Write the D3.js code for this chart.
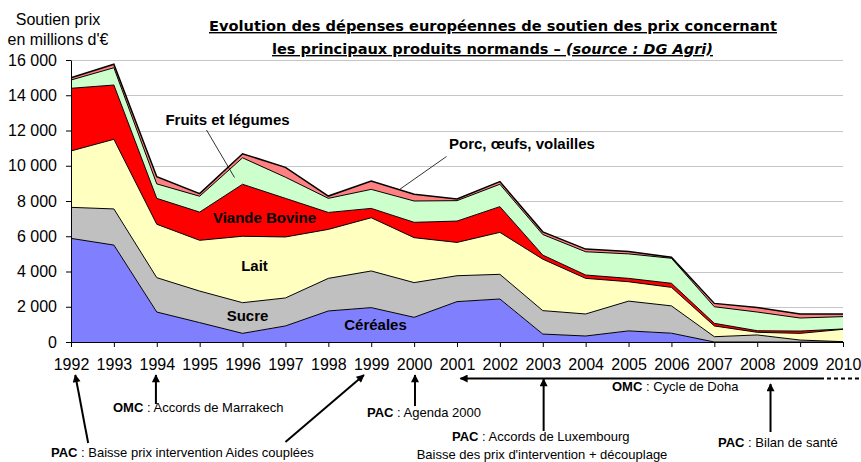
<!DOCTYPE html>
<html>
<head>
<meta charset="utf-8">
<script src="https://cdn.jsdelivr.net/npm/d3@7"></script>
<style>
  body { margin: 0; background: #fff; }
  svg { display: block; font-family: "Liberation Sans", Arial, sans-serif; }
</style>
</head>
<body>
<svg id="chart" width="861" height="462"></svg>
<script>
  // values in millions of euros
  var years    = [1992, 1993, 1994, 1995, 1996, 1997, 1998, 1999, 2000, 2001, 2002, 2003, 2004, 2005, 2006, 2007, 2008, 2009, 2010];
  var cereales = [5880, 5500, 1700, 1100,  490,  910, 1760, 1950, 1400, 2290, 2440,  450,  340,  630,  500,    0,    0,    0,    0];
  var sucre    = [1760, 2050, 1950, 1790, 1740, 1590, 1850, 2080, 1970, 1470, 1400, 1330, 1250, 1690, 1550,  300,  400,  110,   20];
  var lait     = [3200, 3950, 3030, 2880, 3770, 3460, 2780, 3020, 2550, 1890, 2380, 2920, 2020, 1100, 1050,  610,  150,  380,  700];
  var viande   = [3555, 3080, 1470, 1600, 2950, 2190,  960,  530,  870, 1210, 1460,  230,  190,  190,  230,  150,   90,  130,   20];
  var fruits   = [ 470,  980,  820,  900, 1500, 1200,  800, 1080, 1210, 1160, 1270, 1170, 1320, 1390, 1420,  940, 1060,  740,  700];
  var porc     = [ 130,  200,  410,  150,  230,  560,  130,  470,  380,   90,  150,  150,  150,  130,   60,  190,  260,  230,  150];

  var seriesKeys   = ['cereales', 'sucre', 'lait', 'viande', 'fruits', 'porc'];
  var seriesColors = ['#8080ff', '#c0c0c0', '#ffffc0', '#ff0000', '#ccffcc', '#ff8080'];
  var yTicks = [0, 2000, 4000, 6000, 8000, 10000, 12000, 14000, 16000];

  (function() {
    var svg = d3.select('#chart');
    var pLeft = 71, pRight = 843, pTop = 60, pBottom = 342;

    var x = d3.scaleLinear().domain([1992, 2010]).range([pLeft, pRight]);
    var y = d3.scaleLinear().domain([0, 16000]).range([pBottom, pTop]);

    var rows = years.map(function(yr, i) {
      return { year: yr, cereales: cereales[i], sucre: sucre[i], lait: lait[i],
               viande: viande[i], fruits: fruits[i], porc: porc[i] };
    });
    var stacked = d3.stack().keys(seriesKeys)(rows);

    // grid
    svg.append('g').selectAll('line').data(yTicks.slice(1)).enter().append('line')
      .attr('x1', pLeft).attr('x2', pRight)
      .attr('y1', function(d) { return Math.round(y(d)) + 0.5; })
      .attr('y2', function(d) { return Math.round(y(d)) + 0.5; })
      .attr('stroke', '#c6c6c6').attr('stroke-width', 1);

    // areas
    var area = d3.area()
      .x(function(d) { return x(d.data.year); })
      .y0(function(d) { return y(d[0]); })
      .y1(function(d) { return y(d[1]); });
    var topLine = d3.line()
      .x(function(d) { return x(d.data.year); })
      .y(function(d) { return y(d[1]); });

    svg.append('g').selectAll('path').data(stacked).enter().append('path')
      .attr('d', area)
      .attr('fill', function(d, i) { return seriesColors[i]; });
    svg.append('g').selectAll('path').data(stacked).enter().append('path')
      .attr('d', topLine)
      .attr('fill', 'none')
      .attr('stroke', '#000')
      .attr('stroke-width', function(d, i) { return i === stacked.length - 1 ? 1.5 : 1; });

    // axes
    var fmt = function(v) { return d3.format(',')(v).replace(/,/g, ' '); };
    var yAxis = svg.append('g')
      .attr('transform', 'translate(' + pLeft + ',0)')
      .call(d3.axisLeft(y).tickValues(yTicks).tickFormat(fmt).tickSize(5).tickPadding(9).tickSizeOuter(0));
    var xAxis = svg.append('g')
      .attr('transform', 'translate(0,' + pBottom + ')')
      .call(d3.axisBottom(x).tickValues(years).tickFormat(d3.format('d')).tickSize(5).tickPadding(12).tickSizeOuter(0));
    [yAxis, xAxis].forEach(function(g) {
      g.attr('font-family', '"Liberation Sans", Arial, sans-serif').attr('font-size', 16);
      g.selectAll('text').attr('fill', '#000');
      g.selectAll('line').attr('stroke', '#000');
      g.select('.domain').attr('stroke', '#000');
    });

    // unit label
    var unit = svg.append('text').attr('text-anchor', 'middle').attr('font-size', 16);
    unit.append('tspan').attr('x', 58).attr('y', 25).text('Soutien prix');
    unit.append('tspan').attr('x', 58).attr('y', 45).text('en millions d\'€');

    // title
    var tfont = '"DejaVu Sans Condensed", "DejaVu Sans", sans-serif';
    svg.append('text')
      .attr('x', 493).attr('y', 31).attr('text-anchor', 'middle')
      .attr('font-family', tfont).attr('font-size', 14).attr('font-weight', 'bold')
      .attr('text-decoration', 'underline')
      .attr('textLength', 568).attr('lengthAdjust', 'spacingAndGlyphs')
      .text('Evolution des dépenses européennes de soutien des prix concernant');
    var t2 = svg.append('text')
      .attr('x', 492.5).attr('y', 54).attr('text-anchor', 'middle')
      .attr('font-family', tfont).attr('font-size', 14).attr('font-weight', 'bold')
      .attr('text-decoration', 'underline')
      .attr('textLength', 441).attr('lengthAdjust', 'spacingAndGlyphs');
    t2.append('tspan').text('les principaux produits normands – ');
    t2.append('tspan').attr('font-style', 'italic').text('(source : DG Agri)');

    // series labels
    var labels = [
      { text: 'Fruits et légumes', x: 227.5, y: 124.5, anchor: 'middle' },
      { text: 'Porc, œufs, volailles', x: 449, y: 149, anchor: 'start' },
      { text: 'Viande Bovine', x: 264.5, y: 222.5, anchor: 'middle' },
      { text: 'Lait', x: 254.5, y: 270.5, anchor: 'middle' },
      { text: 'Sucre', x: 247.5, y: 320.5, anchor: 'middle' },
      { text: 'Céréales', x: 375.5, y: 330, anchor: 'middle' }
    ];
    svg.append('g').selectAll('text').data(labels).enter().append('text')
      .attr('x', function(d) { return d.x; })
      .attr('y', function(d) { return d.y; })
      .attr('text-anchor', function(d) { return d.anchor; })
      .attr('font-size', 15).attr('font-weight', 'bold')
      .text(function(d) { return d.text; });

    // leader lines
    svg.append('line').attr('x1', 206.5).attr('y1', 130).attr('x2', 234.5).attr('y2', 177.5)
      .attr('stroke', '#000').attr('stroke-width', 0.8);
    svg.append('line').attr('x1', 446.5).attr('y1', 156.5).attr('x2', 399.5).attr('y2', 189.5)
      .attr('stroke', '#000').attr('stroke-width', 0.8);

    // policy annotations below the axis
    var defs = svg.append('defs');
    defs.append('marker').attr('id', 'arrow')
      .attr('viewBox', '0 0 10 10').attr('refX', 9).attr('refY', 5)
      .attr('markerUnits', 'userSpaceOnUse').attr('markerWidth', 10).attr('markerHeight', 8)
      .attr('orient', 'auto')
      .append('path').attr('d', 'M0,0 L10,5 L0,10 z').attr('fill', '#000');

    var arrows = [
      { x1: x(1992.4), y1: 443, x2: x(1992.1), y2: 375 },
      { x1: x(1997.0), y1: 442, x2: x(1998.83), y2: 375 },
      { x1: x(1993.98), y1: 404, x2: x(1993.98), y2: 375 },
      { x1: x(2000.02), y1: 406, x2: x(2000.02), y2: 375 },
      { x1: x(2010) - 23, y1: 378.5, x2: x(2001.08), y2: 378.5 },
      { x1: x(2003.02), y1: 431, x2: x(2003.02), y2: 379 },
      { x1: x(2008.31), y1: 432, x2: x(2008.31), y2: 384 }
    ];
    svg.append('g').selectAll('line').data(arrows).enter().append('line')
      .attr('x1', function(d) { return d.x1; }).attr('y1', function(d) { return d.y1; })
      .attr('x2', function(d) { return d.x2; }).attr('y2', function(d) { return d.y2; })
      .attr('stroke', '#000').attr('stroke-width', 2)
      .attr('marker-end', 'url(#arrow)');
    svg.append('line')
      .attr('x1', x(2010) - 23).attr('x2', 860).attr('y1', 378.5).attr('y2', 378.5)
      .attr('stroke', '#000').attr('stroke-width', 2).attr('stroke-dasharray', '4,3');

    var notes = [
      { bold: 'OMC', rest: ' : Accords de Marrakech', x: 113, y: 411.5, anchor: 'start' },
      { bold: 'PAC', rest: ' : Agenda 2000', x: 367, y: 417, anchor: 'start' },
      { bold: 'OMC', rest: ' : Cycle de Doha', x: 612, y: 391, anchor: 'start' },
      { bold: 'PAC', rest: ' : Accords de Luxembourg', x: 452, y: 441, anchor: 'start' },
      { bold: '', rest: 'Baisse des prix d\'intervention + découplage', x: 542, y: 458.5, anchor: 'middle' },
      { bold: 'PAC', rest: ' : Bilan de santé', x: 718, y: 447, anchor: 'start' },
      { bold: 'PAC', rest: ' : Baisse prix intervention Aides couplées', x: 51, y: 457, anchor: 'start' }
    ];
    var nt = svg.append('g').selectAll('text').data(notes).enter().append('text')
      .attr('x', function(d) { return d.x; })
      .attr('y', function(d) { return d.y; })
      .attr('text-anchor', function(d) { return d.anchor; })
      .attr('font-size', 13);
    nt.append('tspan').attr('font-weight', 'bold').text(function(d) { return d.bold; });
    nt.append('tspan').text(function(d) { return d.rest; });
  })();
</script>
</body>
</html>
